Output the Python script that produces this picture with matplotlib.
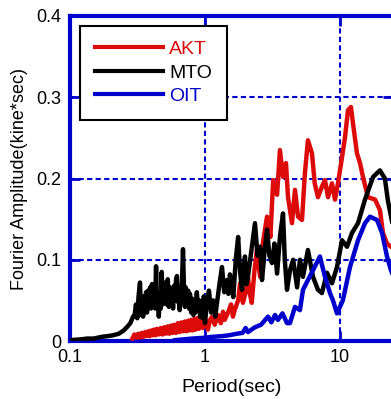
import matplotlib
matplotlib.use("Agg")
import matplotlib.pyplot as plt
from matplotlib.ticker import FixedLocator, NullLocator

plt.rcParams['font.family'] = ['Liberation Sans', 'DejaVu Sans']

RED = '#dd0a0a'
BLACK = '#000000'
BLUE = '#0000cc'

# AKT spectrum (period [sec], amplitude [kine*sec])
akt_period = [0.29, 0.30, 0.31, 0.32, 0.33, 0.34, 0.35, 0.36, 0.37, 0.38,
              0.39, 0.40, 0.41, 0.42, 0.43, 0.44, 0.455, 0.47, 0.485, 0.50,
              0.515, 0.53, 0.545, 0.56, 0.575, 0.59, 0.61, 0.63, 0.65, 0.67,
              0.69, 0.71, 0.73, 0.75, 0.77, 0.79, 0.81, 0.83, 0.85, 0.87,
              0.90, 0.93, 0.96, 1.0, 1.05, 1.09, 1.13, 1.18, 1.25, 1.31,
              1.36, 1.40, 1.48, 1.56, 1.61, 1.66, 1.76, 1.82, 1.91, 2.0,
              2.08, 2.15, 2.22, 2.32, 2.42, 2.56, 2.68, 2.88, 3.05, 3.20,
              3.42, 3.59, 3.78, 3.98, 4.12, 4.41, 4.64, 4.89, 5.23, 5.50,
              5.79, 6.20, 6.50, 6.87, 7.35, 7.74, 8.15, 8.72, 9.18, 9.66,
              10.35, 10.9, 11.46, 12.06, 12.48, 13.36, 14.07, 14.8, 16.12, 18.2,
              19.77, 20.82, 22.29, 23.88, 25.5]
akt_amp = [0.003, 0.008, 0.004, 0.009, 0.004, 0.010, 0.005, 0.011, 0.006, 0.012,
           0.006, 0.013, 0.007, 0.014, 0.007, 0.015, 0.008, 0.016, 0.008, 0.017,
           0.009, 0.018, 0.009, 0.019, 0.010, 0.020, 0.010, 0.022, 0.011, 0.023,
           0.012, 0.024, 0.012, 0.025, 0.013, 0.026, 0.013, 0.027, 0.014, 0.028,
           0.015, 0.029, 0.016, 0.028, 0.014, 0.026, 0.030, 0.020, 0.032, 0.022,
           0.036, 0.026, 0.035, 0.045, 0.030, 0.038, 0.050, 0.071, 0.047, 0.060,
           0.079, 0.058, 0.047, 0.085, 0.112, 0.079, 0.120, 0.153, 0.128, 0.198,
           0.180, 0.235, 0.202, 0.219, 0.177, 0.145, 0.186, 0.153, 0.149, 0.207,
           0.247, 0.231, 0.194, 0.177, 0.190, 0.198, 0.177, 0.194, 0.174, 0.194,
           0.226, 0.251, 0.284, 0.288, 0.268, 0.231, 0.219, 0.202, 0.177, 0.174,
           0.161, 0.133, 0.120, 0.116, 0.113]

# MTO spectrum
mto_period = [0.10, 0.12, 0.134, 0.15, 0.17, 0.19, 0.208, 0.23, 0.25, 0.264,
              0.28, 0.293, 0.300, 0.308, 0.315, 0.322, 0.330, 0.336, 0.342, 0.348,
              0.354, 0.360, 0.366, 0.372, 0.378, 0.385, 0.392, 0.398, 0.405, 0.412,
              0.420, 0.427, 0.434, 0.441, 0.448, 0.455, 0.462, 0.470, 0.478, 0.486,
              0.494, 0.502, 0.51, 0.52, 0.53, 0.54, 0.55, 0.56, 0.57, 0.58,
              0.59, 0.60, 0.61, 0.62, 0.63, 0.64, 0.65, 0.66, 0.675, 0.687,
              0.70, 0.71, 0.72, 0.735, 0.75, 0.762, 0.774, 0.79, 0.805, 0.82,
              0.835, 0.85, 0.87, 0.89, 0.905, 0.92, 0.94, 0.96, 0.98, 1.0,
              1.03, 1.07, 1.11, 1.15, 1.19, 1.227, 1.28, 1.336, 1.39, 1.455,
              1.49, 1.53, 1.58, 1.62, 1.69, 1.76, 1.82, 1.88, 1.93, 1.978,
              2.03, 2.08, 2.2, 2.346, 2.45, 2.56, 2.645, 2.76, 2.88, 3.0,
              3.136, 3.27, 3.42, 3.6, 3.784, 3.9, 4.05, 4.262, 4.5, 4.81,
              5.055, 5.32, 5.785, 6.31, 6.87, 7.35, 8.01, 8.72, 9.5, 10.35,
              11.27, 12.27, 13.6, 15.31, 17.6, 19.77, 21.5, 22.68, 23.88, 25.5]
mto_amp = [0.001, 0.002, 0.003, 0.003, 0.005, 0.006, 0.007, 0.009, 0.013, 0.017,
           0.022, 0.030, 0.030, 0.045, 0.028, 0.055, 0.072, 0.032, 0.050, 0.030,
           0.055, 0.038, 0.060, 0.035, 0.062, 0.042, 0.066, 0.040, 0.070, 0.048,
           0.062, 0.040, 0.092, 0.045, 0.060, 0.030, 0.058, 0.040, 0.085, 0.045,
           0.070, 0.050, 0.072, 0.045, 0.076, 0.042, 0.066, 0.045, 0.062, 0.040,
           0.068, 0.050, 0.075, 0.080, 0.048, 0.060, 0.038, 0.062, 0.070, 0.113,
           0.060, 0.042, 0.066, 0.045, 0.062, 0.040, 0.058, 0.035, 0.052, 0.032,
           0.050, 0.035, 0.060, 0.038, 0.050, 0.030, 0.048, 0.028, 0.055, 0.022,
           0.045, 0.062, 0.035, 0.050, 0.030, 0.047, 0.070, 0.091, 0.060, 0.075,
           0.058, 0.082, 0.065, 0.054, 0.100, 0.128, 0.085, 0.063, 0.090, 0.104,
           0.070, 0.079, 0.110, 0.145, 0.105, 0.116, 0.075, 0.110, 0.137, 0.105,
           0.096, 0.120, 0.083, 0.130, 0.157, 0.100, 0.063, 0.087, 0.100, 0.066,
           0.100, 0.079, 0.112, 0.079, 0.063, 0.059, 0.084, 0.071, 0.091, 0.124,
           0.116, 0.133, 0.145, 0.174, 0.202, 0.210, 0.200, 0.172, 0.153, 0.130]

# OIT spectrum
oit_period = [0.6, 0.8, 1.0, 1.1, 1.34, 1.5, 1.73, 1.9, 2.0, 2.08,
              2.35, 2.6, 2.93, 3.1, 3.3, 3.47, 3.75, 4.05, 4.26, 4.64,
              5.05, 5.32, 5.79, 6.31, 7.1, 7.74, 8.43, 8.87, 9.5, 10.5,
              11.86, 13.6, 15.31, 16.68, 18.8, 20.5, 22.29, 23.88, 25.5]
oit_amp = [0.001, 0.003, 0.004, 0.005, 0.006, 0.007, 0.009, 0.010, 0.016, 0.011,
           0.017, 0.020, 0.030, 0.023, 0.032, 0.026, 0.034, 0.022, 0.022, 0.042,
           0.038, 0.063, 0.075, 0.087, 0.104, 0.079, 0.059, 0.050, 0.034, 0.050,
           0.091, 0.124, 0.145, 0.153, 0.149, 0.133, 0.104, 0.087, 0.075]

x_ticks = [0.1, 1, 10]
x_tick_labels = ['0.1', '1', '10']
y_ticks = [0, 0.1, 0.2, 0.3, 0.4]
y_tick_labels = ['0', '0.1', '0.2', '0.3', '0.4']

fig = plt.figure(figsize=(3.91, 3.99), dpi=100)
# the right edge of the axes sits just past the figure edge (cropped like the original)
ax = fig.add_axes([70 / 391, 58 / 399, 323 / 391, 325 / 399])

ax.plot(akt_period, akt_amp, color=RED, lw=3.2, label='AKT', zorder=3)
ax.plot(mto_period, mto_amp, color=BLACK, lw=3.2, label='MTO', zorder=4)
ax.plot(oit_period, oit_amp, color=BLUE, lw=3.2, label='OIT', zorder=5)

ax.set_xscale('log')
ax.set_xlim(0.1, 24.7)
ax.set_ylim(0, 0.4)

ax.xaxis.set_major_locator(FixedLocator(x_ticks))
ax.xaxis.set_minor_locator(NullLocator())
ax.set_xticklabels(x_tick_labels)
ax.set_yticks(y_ticks)
ax.set_yticklabels(y_tick_labels)

ax.grid(True, color=BLUE, linestyle=(0, (2.5, 1.6)), linewidth=1.5)
for s in ax.spines.values():
    s.set_color(BLUE)
    s.set_linewidth(3)

ax.tick_params(which='major', direction='in', top=True, right=True,
               length=7, width=2, color=BLUE, labelsize=13, pad=6)

ax.set_xlabel('Period(sec)', fontsize=14, labelpad=9)
ax.set_ylabel('Fourier Amplitude(kine*sec)', fontsize=13)
ax.yaxis.set_label_coords(-0.13, 0.5)

leg = ax.legend(loc='upper left', bbox_to_anchor=(10 / 323, 1 - 10 / 325),
                fontsize=14, handlelength=3.5, handletextpad=0.35,
                borderpad=0.75, labelspacing=0.3, fancybox=False,
                framealpha=1, edgecolor='black', borderaxespad=0)
leg.get_frame().set_linewidth(1.5)
for t, c in zip(leg.get_texts(), [RED, BLACK, BLUE]):
    t.set_color(c)
for h in leg.get_lines():
    h.set_linewidth(3)

fig.savefig('out.png', dpi=100)
